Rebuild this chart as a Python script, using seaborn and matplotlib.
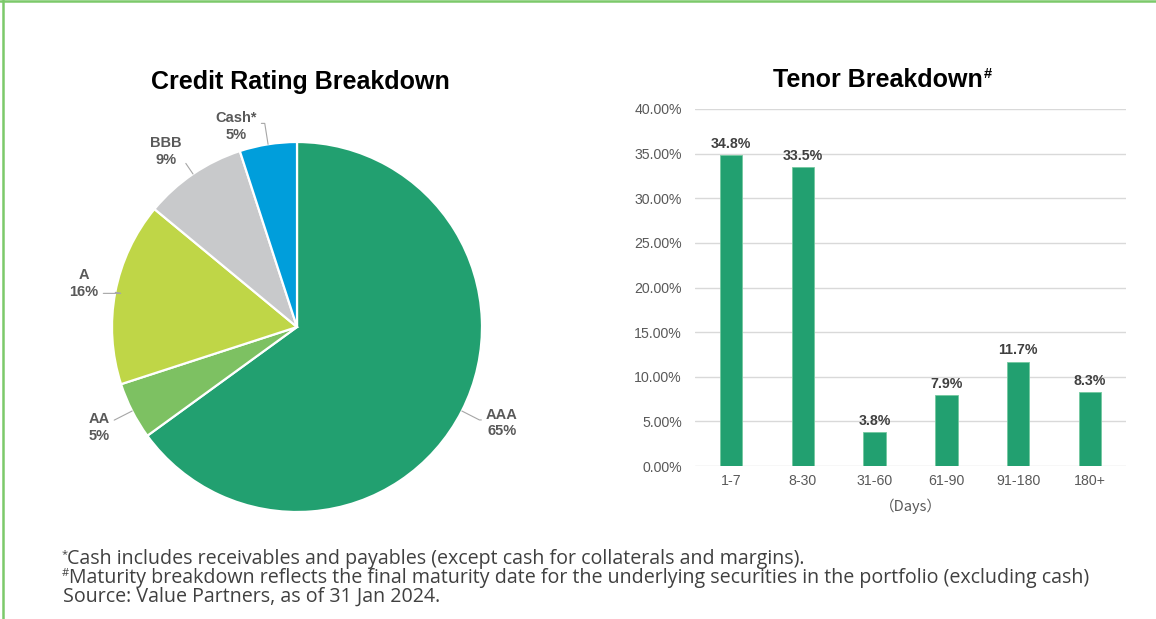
import matplotlib
matplotlib.use('Agg')
import matplotlib.pyplot as plt
import seaborn as sns
import numpy as np
import pandas as pd
from matplotlib.lines import Line2D

# ---------------- data ----------------
rating_labels = ['AAA', 'AA', 'A', 'BBB', 'Cash*']
rating_values = [65, 5, 16, 9, 5]
rating_colors = ['#22A070', '#7DC162', '#BFD647', '#C8C9CB', '#009EDB']

tenor_labels = ['1-7', '8-30', '31-60', '61-90', '91-180', '180+']
tenor_values = [34.8, 33.5, 3.8, 7.9, 11.7, 8.3]
y_ticks = [0, 5, 10, 15, 20, 25, 30, 35, 40]

footnotes = [
    ('*', 'Cash includes receivables and payables (except cash for collaterals and margins).'),
    ('#', 'Maturity breakdown reflects the final maturity date for the underlying securities in the portfolio (excluding cash)'),
    ('', 'Source: Value Partners, as of 31 Jan 2024.'),
]

# ---------------- style ----------------
sns.set_theme(style='white')
plt.rcParams['font.family'] = ['Liberation Sans', 'Noto Sans CJK SC', 'DejaVu Sans']

W, H = 1156, 619
fig = plt.figure(figsize=(W / 100, H / 100), dpi=100)
fig.patch.set_facecolor('white')


def fx(px):
    return px / W


def fy(py):
    return 1 - py / H


# green frame (top and left)
border = '#7CC96A'
fig.add_artist(Line2D([0, 1], [fy(1), fy(1)], transform=fig.transFigure, color=border, lw=1.8))
fig.add_artist(Line2D([fx(3), fx(3)], [0, 1], transform=fig.transFigure, color=border, lw=1.8))

# ---------------- pie ----------------
cx, cy, R = 297, 327, 185
axp = fig.add_axes([fx(cx - R), fy(cy + R), 2 * R / W, 2 * R / H])
wedges, _ = axp.pie(rating_values, colors=rating_colors, startangle=90, counterclock=False,
                    radius=1, wedgeprops=dict(edgecolor='white', linewidth=1.6))
axp.set_xlim(-1, 1)
axp.set_ylim(-1, 1)
axp.set_aspect('equal')
axp.axis('off')

# label layout: text centre (pie units) and attachment point on text box
label_pos = [(1.108, -0.519), (-1.070, -0.543), (-1.151, 0.235), (-0.708, 0.949), (-0.330, 1.084)]
label_rel = [(0.0, 0.6), (1.0, 0.65), (1.0, 0.18), (1.0, 0.2), (1.0, 0.6)]
for w, lab, val, pos, rel in zip(wedges, rating_labels, rating_values, label_pos, label_rel):
    mid = np.deg2rad((w.theta1 + w.theta2) / 2)
    axp.annotate(f'{lab}\n{val}%', xy=(np.cos(mid), np.sin(mid)), xytext=pos,
                 ha='center', va='center', fontsize=10.5, fontweight='bold', color='#595959',
                 linespacing=1.25, annotation_clip=False,
                 arrowprops=dict(arrowstyle='-', color='#A6A6A6', lw=0.8, relpos=rel,
                                 shrinkA=1, shrinkB=0,
                                 connectionstyle=f'angle,angleA=0,angleB={np.rad2deg(mid):.1f},rad=0'))

fig.text(fx(300), fy(82), 'Credit Rating Breakdown', ha='center', va='center',
         fontsize=18, fontweight='bold', color='black')

# ---------------- bars ----------------
axb = fig.add_axes([fx(695), fy(466), (1126 - 695) / W, (466 - 109) / H])
df = pd.DataFrame({'tenor': tenor_labels, 'value': tenor_values})
sns.barplot(data=df, x='tenor', y='value', ax=axb, color='#22A070', saturation=1,
            width=0.31, edgecolor='#74C9A0', linewidth=0.6)
axb.set_xlim(-0.5, len(tenor_labels) - 0.5)
axb.set_ylim(0, 40)
axb.set_yticks(y_ticks)
axb.set_yticklabels([f'{v:.2f}%' for v in y_ticks])
axb.grid(axis='y', color='#D9D9D9', lw=1.0)
axb.grid(axis='x', visible=False)
axb.set_axisbelow(True)
for s in axb.spines.values():
    s.set_visible(False)
axb.tick_params(axis='y', length=0, labelsize=10.2, colors='#595959', pad=9.5)
axb.tick_params(axis='x', length=0, labelsize=10.2, colors='#595959', pad=6)
axb.set_ylabel('')
axb.set_xlabel('（Days）', fontsize=10.5, color='#595959', labelpad=7,
               family=['Noto Sans CJK SC', 'Liberation Sans'])
for cont in axb.containers:
    axb.bar_label(cont, labels=[f'{v:.1f}%' for v in tenor_values], padding=3,
                  fontsize=10.2, fontweight='bold', color='#404040')

t2 = fig.text(fx(878), fy(80), 'Tenor Breakdown', ha='center', va='center',
              fontsize=18, fontweight='bold', color='black')
axb.annotate('#', xy=(1, 1), xycoords=t2, xytext=(0.5, 1), textcoords='offset points',
             ha='left', va='top', fontsize=10.5, fontweight='bold', color='black')

# ---------------- footnotes ----------------
line_y = [559, 578, 597]
for (mark, txt), yy in zip(footnotes, line_y):
    x0 = 63
    if mark:
        fig.text(fx(62), fy(yy - 4), mark, fontsize=8, color='#404040', ha='left', va='center',
                 family='Open Sans')
        x0 = 67 if mark == '*' else 69
    fig.text(fx(x0), fy(yy), txt, fontsize=14.1, color='#404040', ha='left', va='center',
             family='Open Sans')

fig.savefig('out.png', dpi=100, facecolor='white')
